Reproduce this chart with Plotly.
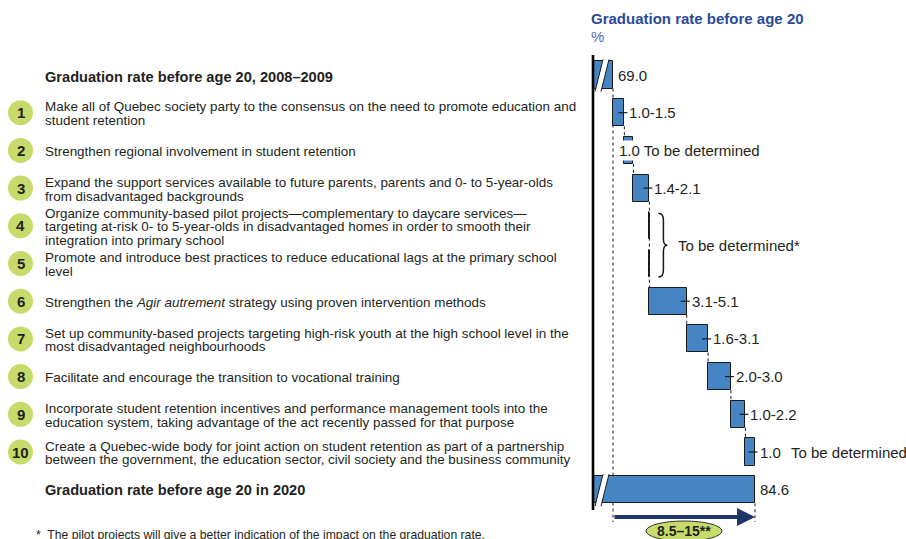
import plotly.graph_objects as go

# ---- data ---------------------------------------------------------------
start_label = "Graduation rate before age 20, 2008–2009"
end_label = "Graduation rate before age 20 in 2020"
start_rate = 69.0
end_rate = 84.6

measures = [
    "Make all of Quebec society party to the consensus on the need to promote education and|student retention",
    "Strengthen regional involvement in student retention",
    "Expand the support services available to future parents, parents and 0- to 5-year-olds|from disadvantaged backgrounds",
    "Organize community-based pilot projects—complementary to daycare services—|targeting at-risk 0- to 5-year-olds in disadvantaged homes in order to smooth their|integration into primary school",
    "Promote and introduce best practices to reduce educational lags at the primary school|level",
    "Strengthen the <i>Agir autrement</i> strategy using proven intervention methods",
    "Set up community-based projects targeting high-risk youth at the high school level in the|most disadvantaged neighbourhoods",
    "Facilitate and encourage the transition to vocational training",
    "Incorporate student retention incentives and performance management tools into the|education system, taking advantage of the act recently passed for that purpose",
    "Create a Quebec-wide body for joint action on student retention as part of a partnership|between the government, the education sector, civil society and the business community",
]
# impact of each measure, in percentage points (low / high of the range)
impact_low = [1.0, 1.0, 1.4, 0.0, 0.0, 3.1, 1.6, 2.0, 1.0, 1.0]
impact_high = [1.5, 1.0, 2.1, 0.0, 0.0, 5.1, 3.1, 3.0, 2.2, 1.0]
impact_tbd = [False, True, False, True, True, False, False, False, False, True]
total_gain = "8.5–15**"
footnote = "*  The pilot projects will give a better indication of the impact on the graduation rate."

# ---- layout constants -----------------------------------------------------
W, H = 906, 539
FONT = "Liberation Sans, Arial, Helvetica, sans-serif"
BAR_BLUE = "#4784c4"
EDGE = "#1a1a1a"
TEXT = "#231f20"
HEAD_BLUE = "#2b4a99"
CIRCLE_GREEN = "#c6db6a"
NAVY = "#1f3467"

ITEM_SIZE = 13.45
TITLE_SIZE = 14.6
VALUE_SIZE = 15

AXIS_PX = 593          # broken axis line
START_PX, END_PX = 613, 755
PPU = (END_PX - START_PX) / (end_rate - start_rate)   # pixels per point
X_LEFT = start_rate - (START_PX - AXIS_PX) / PPU
X_RIGHT = X_LEFT + (W - AXIS_PX) / PPU
ROW0_PX, ROW_PX = 75, 37.7
BAR_W = 0.72


def row_px(r):
    return ROW0_PX + ROW_PX * r


def px_row(p):
    return (p - ROW0_PX) / ROW_PX


def xv_px(v):
    return AXIS_PX + (v - X_LEFT) * PPU


def pxx(p):
    return p / W


def pxy(p):
    return 1 - p / H


def label(**kw):
    base = dict(showarrow=False, xanchor="left", yanchor="middle")
    base.update(kw)
    return base


# ---- waterfall geometry ---------------------------------------------------
n = len(measures)
mid = [(lo + hi) / 2 for lo, hi in zip(impact_low, impact_high)]
bases, ends = [], []
cum = start_rate
for m in mid:
    bases.append(cum)
    cum += m
    ends.append(cum)

rows = list(range(n + 2))
bar_x = [start_rate] + mid + [end_rate]
bar_base = [0] + bases + [0]

fig = go.Figure()
fig.add_trace(go.Bar(
    orientation="h", y=rows, x=bar_x, base=bar_base, width=BAR_W,
    marker=dict(color=BAR_BLUE, line=dict(color=EDGE, width=1)),
    hoverinfo="skip", showlegend=False,
))

shapes = []
ann = []

# reference line at the starting rate and at the target
shapes.append(dict(type="line", xref="x", yref="y", x0=start_rate, x1=start_rate,
                   y0=BAR_W / 2, y1=px_row(522), layer="below",
                   line=dict(color=EDGE, width=1, dash="dot")))
shapes.append(dict(type="line", xref="x", yref="y", x0=end_rate, x1=end_rate,
                   y0=n + 1 + BAR_W / 2, y1=px_row(522),
                   line=dict(color=EDGE, width=1, dash="dot")))

# connectors between successive measures
prev_row = None
for i in range(n):
    r = i + 1
    if impact_tbd[i] and mid[i] == 0:
        shapes.append(dict(type="line", xref="x", yref="y", x0=bases[i], x1=bases[i],
                           y0=r - BAR_W / 2, y1=r + BAR_W / 2,
                           line=dict(color=EDGE, width=1)))
        continue
    if prev_row is not None:
        shapes.append(dict(type="line", xref="x", yref="y", x0=bases[i], x1=bases[i],
                           y0=prev_row + BAR_W / 2, y1=r - BAR_W / 2,
                           line=dict(color=EDGE, width=1, dash="dot")))
    prev_row = r

# value ticks and labels
vfont = dict(size=VALUE_SIZE, color=TEXT)
ann.append(label(x=start_rate, y=0, xref="x", yref="y", text=f"{start_rate:.1f}",
                 xshift=3, font=vfont))
ann.append(label(x=end_rate, y=n + 1, xref="x", yref="y", text=f"{end_rate:.1f}",
                 xshift=3, font=vfont))
for i in range(n):
    r = i + 1
    lo, hi = impact_low[i], impact_high[i]
    if mid[i] == 0:
        continue
    txt = f"{lo:.1f}" if lo == hi else f"{lo:.1f}-{hi:.1f}"
    if i == 1:
        ann.append(label(x=bases[i], y=r, xref="x", yref="y",
                         text=txt + " To be determined", xshift=-7,
                         bgcolor="white", borderpad=1, font=vfont))
        continue
    shapes.append(dict(type="line", xref="x", yref="y",
                       x0=ends[i] - 6 / PPU, x1=ends[i] + 3 / PPU, y0=r, y1=r,
                       line=dict(color=EDGE, width=1.2)))
    ann.append(label(x=ends[i], y=r, xref="x", yref="y", text=txt, xshift=3, font=vfont))
    if impact_tbd[i]:
        ann.append(label(x=ends[i], y=r, xref="x", yref="y", text="To be determined",
                         xshift=34, font=vfont))

# brace over the measures whose impact is still unknown
tbd_rows = [i + 1 for i in range(n) if impact_tbd[i] and mid[i] == 0]
bx = xv_px(bases[tbd_rows[0] - 1])
top = row_px(tbd_rows[0]) - ROW_PX * BAR_W / 2 + 1
bot = row_px(tbd_rows[-1]) + ROW_PX * BAR_W / 2
midy = (top + bot) / 2
x1, x2, x3 = bx + 9, bx + 14, bx + 18
brace = (f"M {pxx(x1)},{pxy(top)} Q {pxx(x2)},{pxy(top)} {pxx(x2)},{pxy(top + 7)} "
         f"L {pxx(x2)},{pxy(midy - 6)} Q {pxx(x2)},{pxy(midy)} {pxx(x3)},{pxy(midy)} "
         f"Q {pxx(x2)},{pxy(midy)} {pxx(x2)},{pxy(midy + 6)} "
         f"L {pxx(x2)},{pxy(bot - 7)} Q {pxx(x2)},{pxy(bot)} {pxx(x1)},{pxy(bot)}")
shapes.append(dict(type="path", xref="paper", yref="paper", path=brace,
                   line=dict(color=EDGE, width=1.5)))
ann.append(label(x=pxx(bx + 27), y=pxy(midy), xref="paper", yref="paper",
                 text="To be determined*", font=vfont))

# broken axis line and break marks
shapes.append(dict(type="line", xref="paper", yref="paper", x0=pxx(AXIS_PX), x1=pxx(AXIS_PX),
                   y0=pxy(55), y1=pxy(510), line=dict(color="black", width=2.6)))
for r in (0, n + 1):
    yb = row_px(r) + ROW_PX * BAR_W / 2 + 3
    yt = row_px(r) - ROW_PX * BAR_W / 2 - 2
    ax0, ax1, sl = AXIS_PX + 2, AXIS_PX + 8, 8
    shapes.append(dict(type="path", xref="paper", yref="paper",
                       path=(f"M {pxx(ax0)},{pxy(yb)} L {pxx(ax0 + sl)},{pxy(yt)} "
                             f"L {pxx(ax1 + sl)},{pxy(yt)} L {pxx(ax1)},{pxy(yb)} Z"),
                       fillcolor="white", line=dict(width=0)))
    for xe in (ax0, ax1):
        shapes.append(dict(type="line", xref="paper", yref="paper",
                           x0=pxx(xe), y0=pxy(yb), x1=pxx(xe + sl), y1=pxy(yt),
                           line=dict(color=EDGE, width=1)))

# total gain arrow and bubble
arrow_row = px_row(517)
ann.append(dict(x=end_rate, y=arrow_row, ax=start_rate, ay=arrow_row, xref="x", yref="y",
                axref="x", ayref="y", text="", showarrow=True, arrowhead=2,
                arrowsize=0.9, arrowwidth=4, arrowcolor=NAVY, standoff=0))
mid_gain = (start_rate + end_rate) / 2
bubble_row = px_row(531)
shapes.append(dict(type="circle", xref="x", yref="y", xsizemode="pixel", ysizemode="pixel",
                   xanchor=mid_gain, yanchor=bubble_row, x0=-38, x1=38, y0=-10, y1=10,
                   fillcolor=CIRCLE_GREEN, line=dict(color="#333333", width=1)))
ann.append(label(x=mid_gain, y=bubble_row, xref="x", yref="y", text=f"<b>{total_gain}</b>",
                 xanchor="center", font=dict(size=14, color=TEXT)))

# chart heading
ann.append(label(x=pxx(589), y=pxy(19), xref="paper", yref="paper",
                 text="<b>Graduation rate before age 20</b>",
                 font=dict(size=15, color=HEAD_BLUE)))
ann.append(label(x=pxx(589), y=pxy(37), xref="paper", yref="paper", text="%",
                 font=dict(size=15, color="#4a6cc0")))

# left-hand list of measures
TX = pxx(43)
ann.append(label(x=TX, y=0, xref="paper", yref="y", text=f"<b>{start_label}</b>", yshift=-2,
                 font=dict(size=TITLE_SIZE, color=TEXT)))
ann.append(label(x=TX, y=n + 1, xref="paper", yref="y", text=f"<b>{end_label}</b>",
                 font=dict(size=TITLE_SIZE, color=TEXT)))
LINE_GAP = 13.8
for i, txt in enumerate(measures):
    r = i + 1
    lines = txt.split("|")
    k = len(lines)
    for j, line in enumerate(lines):
        off = ((k - 1) / 2 - j) * LINE_GAP
        ann.append(label(x=TX, y=r, xref="paper", yref="y", text=line, yshift=off - 1,
                         font=dict(size=ITEM_SIZE, color=TEXT)))
    shapes.append(dict(type="circle", xref="paper", yref="y", xsizemode="pixel",
                       ysizemode="pixel", xanchor=pxx(20.5), yanchor=r,
                       x0=-12.5, x1=12.5, y0=-12.5, y1=12.5,
                       fillcolor=CIRCLE_GREEN, line=dict(width=0)))
    ann.append(label(x=pxx(20.5), y=r, xref="paper", yref="y", text=f"<b>{r}</b>",
                     xanchor="center", font=dict(size=15, color=TEXT)))

ann.append(label(x=pxx(34), y=pxy(535), xref="paper", yref="paper", text=footnote,
                 font=dict(size=12.2, color=TEXT)))

fig.update_layout(
    width=W, height=H, margin=dict(l=0, r=0, t=0, b=0),
    paper_bgcolor="white", plot_bgcolor="white",
    font=dict(family=FONT, color=TEXT),
    xaxis=dict(domain=[AXIS_PX / W, 1], range=[X_LEFT, X_RIGHT], visible=False,
               fixedrange=True),
    yaxis=dict(domain=[0, 1], range=[px_row(H), px_row(0)], visible=False,
               fixedrange=True),
    shapes=shapes, annotations=ann, bargap=0, showlegend=False,
)

fig.write_html("out.html")
